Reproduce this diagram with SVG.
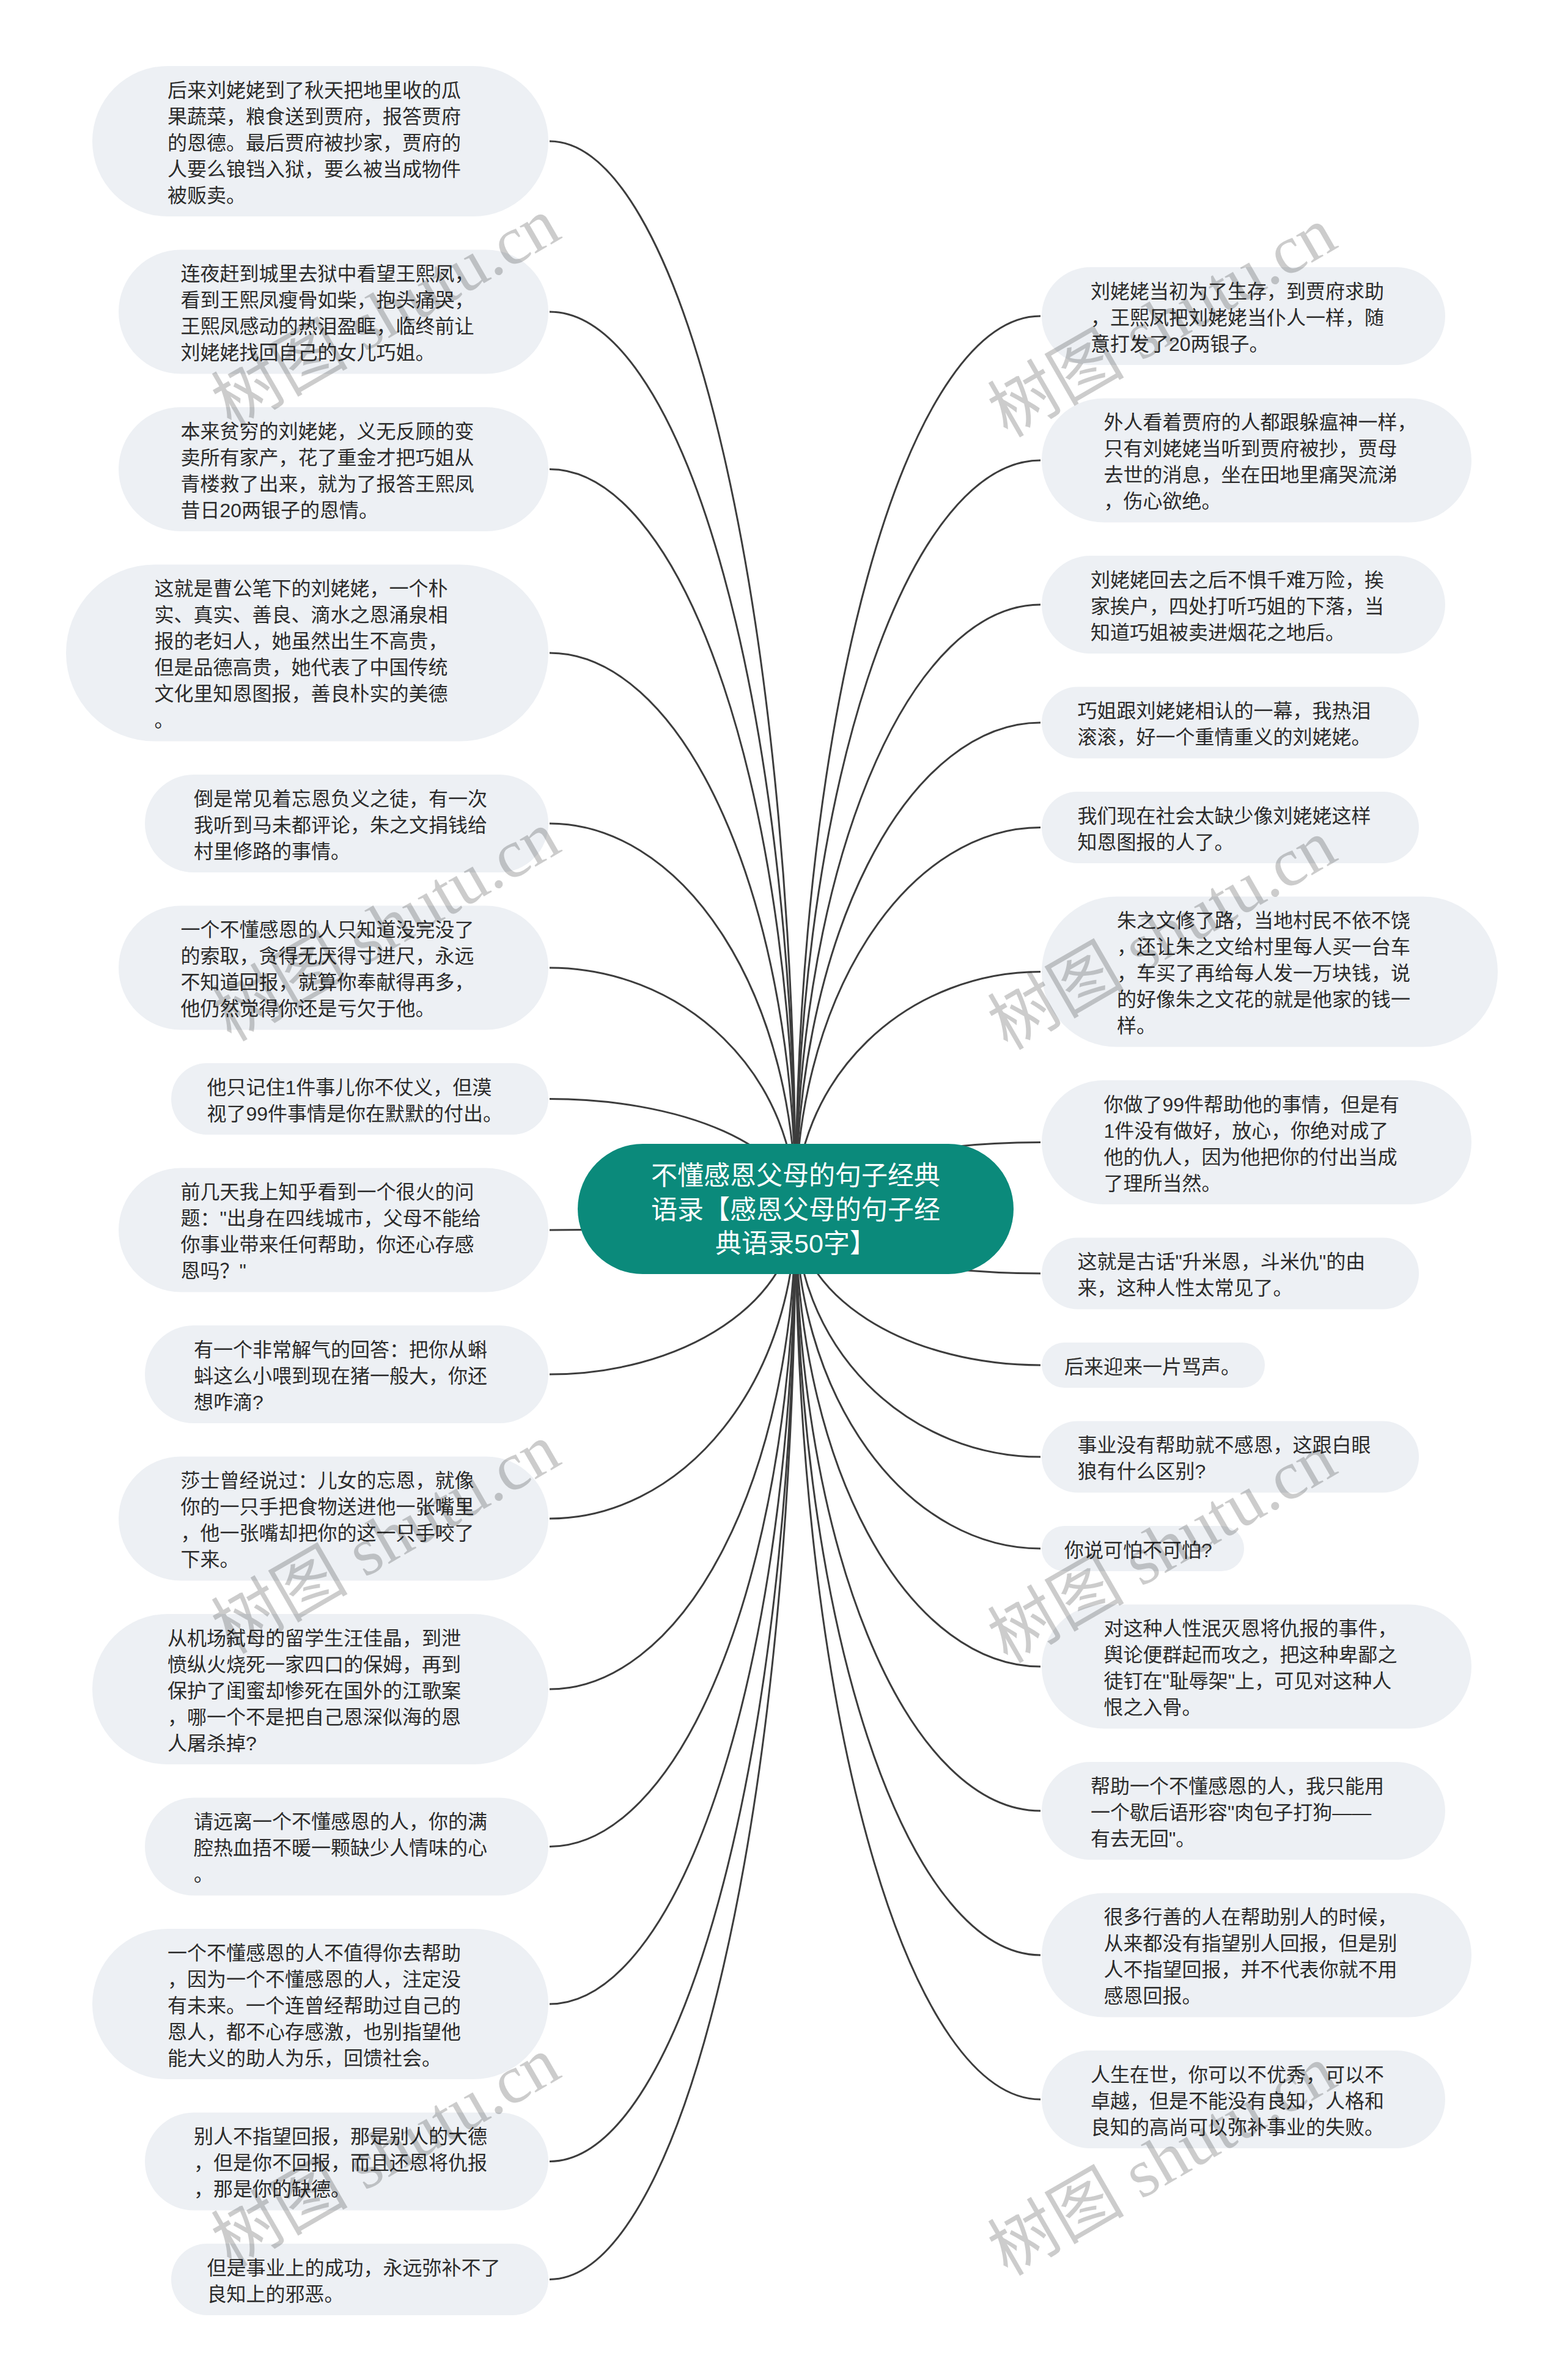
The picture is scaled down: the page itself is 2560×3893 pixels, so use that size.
<svg xmlns="http://www.w3.org/2000/svg" width="2560" height="3893" viewBox="0 0 2560 3893">
<style>
.bg{fill:#ffffff}
.node{fill:#edf0f4}
.root{fill:#0b8a7b}
.t{font-family:"Liberation Sans","Noto Sans CJK SC",sans-serif;font-size:32px;fill:#2b2b2b}
.rt{font-family:"Liberation Sans","Noto Sans CJK SC",sans-serif;font-size:43px;fill:#ffffff;text-anchor:middle}
.link{fill:none;stroke:#3d3d3d;stroke-width:3}
.wm{font-family:"Liberation Serif","Noto Sans CJK SC",serif;font-size:112px;fill:#000000;fill-opacity:0.2;text-anchor:middle}
</style>
<rect class="bg" x="0" y="0" width="2560" height="3893"/>
<g id="connectors">
<path class="link" d="M1301.5 1977.5 A402.5 1746.5 0 0 0 899 231"/>
<path class="link" d="M1301.5 1977.5 A402.5 1467.5 0 0 0 899 510"/>
<path class="link" d="M1301.5 1977.5 A402.5 1210 0 0 0 899 767.5"/>
<path class="link" d="M1301.5 1977.5 A402.5 909.5 0 0 0 899 1068"/>
<path class="link" d="M1301.5 1977.5 A402.5 630.5 0 0 0 899 1347"/>
<path class="link" d="M1301.5 1977.5 A402.5 394.5 0 0 0 899 1583"/>
<path class="link" d="M1301.5 1977.5 A402.5 180 0 0 0 899 1797.5"/>
<path class="link" d="M1301.5 1977.5 A402.5 34.5 0 0 1 899 2012"/>
<path class="link" d="M1301.5 1977.5 A402.5 270.5 0 0 1 899 2248"/>
<path class="link" d="M1301.5 1977.5 A402.5 506.5 0 0 1 899 2484"/>
<path class="link" d="M1301.5 1977.5 A402.5 785.5 0 0 1 899 2763"/>
<path class="link" d="M1301.5 1977.5 A402.5 1043 0 0 1 899 3020.5"/>
<path class="link" d="M1301.5 1977.5 A402.5 1300.5 0 0 1 899 3278"/>
<path class="link" d="M1301.5 1977.5 A402.5 1558 0 0 1 899 3535.5"/>
<path class="link" d="M1301.5 1977.5 A402.5 1751 0 0 1 899 3728.5"/>
<path class="link" d="M1301.5 1977.5 A400.5 1460.5 0 0 1 1702 517"/>
<path class="link" d="M1301.5 1977.5 A400.5 1224.5 0 0 1 1702 753"/>
<path class="link" d="M1301.5 1977.5 A400.5 988.5 0 0 1 1702 989"/>
<path class="link" d="M1301.5 1977.5 A400.5 795.5 0 0 1 1702 1182"/>
<path class="link" d="M1301.5 1977.5 A400.5 624 0 0 1 1702 1353.5"/>
<path class="link" d="M1301.5 1977.5 A400.5 388 0 0 1 1702 1589.5"/>
<path class="link" d="M1301.5 1977.5 A400.5 109 0 0 1 1702 1868.5"/>
<path class="link" d="M1301.5 1977.5 A400.5 105.5 0 0 0 1702 2083"/>
<path class="link" d="M1301.5 1977.5 A400.5 255.5 0 0 0 1702 2233"/>
<path class="link" d="M1301.5 1977.5 A400.5 405.5 0 0 0 1702 2383"/>
<path class="link" d="M1301.5 1977.5 A400.5 555.5 0 0 0 1702 2533"/>
<path class="link" d="M1301.5 1977.5 A400.5 748.5 0 0 0 1702 2726"/>
<path class="link" d="M1301.5 1977.5 A400.5 984.5 0 0 0 1702 2962"/>
<path class="link" d="M1301.5 1977.5 A400.5 1220.5 0 0 0 1702 3198"/>
<path class="link" d="M1301.5 1977.5 A400.5 1456.5 0 0 0 1702 3434"/>
</g>
<g id="root">
<rect class="root" x="945" y="1871" width="713" height="213" rx="106.5"/>
<text class="rt"><tspan x="1301.5" y="1938">不懂感恩父母的句子经典</tspan><tspan x="1301.5" y="1993.5">语录【感恩父母的句子经</tspan><tspan x="1301.5" y="2049">典语录50字】</tspan></text>
</g>
<g id="L1"><rect class="node" x="151" y="108" width="746" height="246" rx="123"/>
<text class="t"><tspan x="274" y="158.5">后来刘姥姥到了秋天把地里收的瓜</tspan><tspan x="274" y="201.5">果蔬菜，粮食送到贾府，报答贾府</tspan><tspan x="274" y="244.5">的恩德。最后贾府被抄家，贾府的</tspan><tspan x="274" y="287.5">人要么锒铛入狱，要么被当成物件</tspan><tspan x="274" y="330.5">被贩卖。</tspan></text></g>
<g id="L2"><rect class="node" x="194" y="408.5" width="703" height="203" rx="101.5"/>
<text class="t"><tspan x="295.5" y="459">连夜赶到城里去狱中看望王熙凤，</tspan><tspan x="295.5" y="502">看到王熙凤瘦骨如柴，抱头痛哭，</tspan><tspan x="295.5" y="545">王熙凤感动的热泪盈眶，临终前让</tspan><tspan x="295.5" y="588">刘姥姥找回自己的女儿巧姐。</tspan></text></g>
<g id="L3"><rect class="node" x="194" y="666" width="703" height="203" rx="101.5"/>
<text class="t"><tspan x="295.5" y="716.5">本来贫穷的刘姥姥，义无反顾的变</tspan><tspan x="295.5" y="759.5">卖所有家产，花了重金才把巧姐从</tspan><tspan x="295.5" y="802.5">青楼救了出来，就为了报答王熙凤</tspan><tspan x="295.5" y="845.5">昔日20两银子的恩情。</tspan></text></g>
<g id="L4"><rect class="node" x="108" y="923.5" width="789" height="289" rx="144.5"/>
<text class="t"><tspan x="252.5" y="974">这就是曹公笔下的刘姥姥，一个朴</tspan><tspan x="252.5" y="1017">实、真实、善良、滴水之恩涌泉相</tspan><tspan x="252.5" y="1060">报的老妇人，她虽然出生不高贵，</tspan><tspan x="252.5" y="1103">但是品德高贵，她代表了中国传统</tspan><tspan x="252.5" y="1146">文化里知恩图报，善良朴实的美德</tspan><tspan x="252.5" y="1189">。</tspan></text></g>
<g id="L5"><rect class="node" x="237" y="1267" width="660" height="160" rx="80"/>
<text class="t"><tspan x="317" y="1317.5">倒是常见着忘恩负义之徒，有一次</tspan><tspan x="317" y="1360.5">我听到马未都评论，朱之文捐钱给</tspan><tspan x="317" y="1403.5">村里修路的事情。</tspan></text></g>
<g id="L6"><rect class="node" x="194" y="1481.5" width="703" height="203" rx="101.5"/>
<text class="t"><tspan x="295.5" y="1532">一个不懂感恩的人只知道没完没了</tspan><tspan x="295.5" y="1575">的索取，贪得无厌得寸进尺，永远</tspan><tspan x="295.5" y="1618">不知道回报，就算你奉献得再多，</tspan><tspan x="295.5" y="1661">他仍然觉得你还是亏欠于他。</tspan></text></g>
<g id="L7"><rect class="node" x="280" y="1739" width="617" height="117" rx="58.5"/>
<text class="t"><tspan x="338.5" y="1789.5">他只记住1件事儿你不仗义，但漠</tspan><tspan x="338.5" y="1832.5">视了99件事情是你在默默的付出。</tspan></text></g>
<g id="L8"><rect class="node" x="194" y="1910.5" width="703" height="203" rx="101.5"/>
<text class="t"><tspan x="295.5" y="1961">前几天我上知乎看到一个很火的问</tspan><tspan x="295.5" y="2004">题："出身在四线城市，父母不能给</tspan><tspan x="295.5" y="2047">你事业带来任何帮助，你还心存感</tspan><tspan x="295.5" y="2090">恩吗？"</tspan></text></g>
<g id="L9"><rect class="node" x="237" y="2168" width="660" height="160" rx="80"/>
<text class="t"><tspan x="317" y="2218.5">有一个非常解气的回答：把你从蝌</tspan><tspan x="317" y="2261.5">蚪这么小喂到现在猪一般大，你还</tspan><tspan x="317" y="2304.5">想咋滴?</tspan></text></g>
<g id="L10"><rect class="node" x="194" y="2382.5" width="703" height="203" rx="101.5"/>
<text class="t"><tspan x="295.5" y="2433">莎士曾经说过：儿女的忘恩，就像</tspan><tspan x="295.5" y="2476">你的一只手把食物送进他一张嘴里</tspan><tspan x="295.5" y="2519">，他一张嘴却把你的这一只手咬了</tspan><tspan x="295.5" y="2562">下来。</tspan></text></g>
<g id="L11"><rect class="node" x="151" y="2640" width="746" height="246" rx="123"/>
<text class="t"><tspan x="274" y="2690.5">从机场弑母的留学生汪佳晶，到泄</tspan><tspan x="274" y="2733.5">愤纵火烧死一家四口的保姆，再到</tspan><tspan x="274" y="2776.5">保护了闺蜜却惨死在国外的江歌案</tspan><tspan x="274" y="2819.5">，哪一个不是把自己恩深似海的恩</tspan><tspan x="274" y="2862.5">人屠杀掉?</tspan></text></g>
<g id="L12"><rect class="node" x="237" y="2940.5" width="660" height="160" rx="80"/>
<text class="t"><tspan x="317" y="2991">请远离一个不懂感恩的人，你的满</tspan><tspan x="317" y="3034">腔热血捂不暖一颗缺少人情味的心</tspan><tspan x="317" y="3077">。</tspan></text></g>
<g id="L13"><rect class="node" x="151" y="3155" width="746" height="246" rx="123"/>
<text class="t"><tspan x="274" y="3205.5">一个不懂感恩的人不值得你去帮助</tspan><tspan x="274" y="3248.5">，因为一个不懂感恩的人，注定没</tspan><tspan x="274" y="3291.5">有未来。一个连曾经帮助过自己的</tspan><tspan x="274" y="3334.5">恩人，都不心存感激，也别指望他</tspan><tspan x="274" y="3377.5">能大义的助人为乐，回馈社会。</tspan></text></g>
<g id="L14"><rect class="node" x="237" y="3455.5" width="660" height="160" rx="80"/>
<text class="t"><tspan x="317" y="3506">别人不指望回报，那是别人的大德</tspan><tspan x="317" y="3549">，但是你不回报，而且还恩将仇报</tspan><tspan x="317" y="3592">，那是你的缺德。</tspan></text></g>
<g id="L15"><rect class="node" x="280" y="3670" width="617" height="117" rx="58.5"/>
<text class="t"><tspan x="338.5" y="3720.5">但是事业上的成功，永远弥补不了</tspan><tspan x="338.5" y="3763.5">良知上的邪恶。</tspan></text></g>
<g id="R1"><rect class="node" x="1704" y="437" width="660" height="160" rx="80"/>
<text class="t"><tspan x="1784" y="487.5">刘姥姥当初为了生存，到贾府求助</tspan><tspan x="1784" y="530.5">，王熙凤把刘姥姥当仆人一样，随</tspan><tspan x="1784" y="573.5">意打发了20两银子。</tspan></text></g>
<g id="R2"><rect class="node" x="1704" y="651.5" width="703" height="203" rx="101.5"/>
<text class="t"><tspan x="1805.5" y="702">外人看着贾府的人都跟躲瘟神一样，</tspan><tspan x="1805.5" y="745">只有刘姥姥当听到贾府被抄，贾母</tspan><tspan x="1805.5" y="788">去世的消息，坐在田地里痛哭流涕</tspan><tspan x="1805.5" y="831">，伤心欲绝。</tspan></text></g>
<g id="R3"><rect class="node" x="1704" y="909" width="660" height="160" rx="80"/>
<text class="t"><tspan x="1784" y="959.5">刘姥姥回去之后不惧千难万险，挨</tspan><tspan x="1784" y="1002.5">家挨户，四处打听巧姐的下落，当</tspan><tspan x="1784" y="1045.5">知道巧姐被卖进烟花之地后。</tspan></text></g>
<g id="R4"><rect class="node" x="1704" y="1123.5" width="617" height="117" rx="58.5"/>
<text class="t"><tspan x="1762.5" y="1174">巧姐跟刘姥姥相认的一幕，我热泪</tspan><tspan x="1762.5" y="1217">滚滚，好一个重情重义的刘姥姥。</tspan></text></g>
<g id="R5"><rect class="node" x="1704" y="1295" width="617" height="117" rx="58.5"/>
<text class="t"><tspan x="1762.5" y="1345.5">我们现在社会太缺少像刘姥姥这样</tspan><tspan x="1762.5" y="1388.5">知恩图报的人了。</tspan></text></g>
<g id="R6"><rect class="node" x="1704" y="1466.5" width="746" height="246" rx="123"/>
<text class="t"><tspan x="1827" y="1517">朱之文修了路，当地村民不依不饶</tspan><tspan x="1827" y="1560">，还让朱之文给村里每人买一台车</tspan><tspan x="1827" y="1603">，车买了再给每人发一万块钱，说</tspan><tspan x="1827" y="1646">的好像朱之文花的就是他家的钱一</tspan><tspan x="1827" y="1689">样。</tspan></text></g>
<g id="R7"><rect class="node" x="1704" y="1767" width="703" height="203" rx="101.5"/>
<text class="t"><tspan x="1805.5" y="1817.5">你做了99件帮助他的事情，但是有</tspan><tspan x="1805.5" y="1860.5">1件没有做好，放心，你绝对成了</tspan><tspan x="1805.5" y="1903.5">他的仇人，因为他把你的付出当成</tspan><tspan x="1805.5" y="1946.5">了理所当然。</tspan></text></g>
<g id="R8"><rect class="node" x="1704" y="2024.5" width="617" height="117" rx="58.5"/>
<text class="t"><tspan x="1762.5" y="2075">这就是古话"升米恩，斗米仇"的由</tspan><tspan x="1762.5" y="2118">来，这种人性太常见了。</tspan></text></g>
<g id="R9"><rect class="node" x="1704" y="2196" width="365" height="74" rx="37"/>
<text class="t"><tspan x="1741" y="2246.5">后来迎来一片骂声。</tspan></text></g>
<g id="R10"><rect class="node" x="1704" y="2324.5" width="617" height="117" rx="58.5"/>
<text class="t"><tspan x="1762.5" y="2375">事业没有帮助就不感恩，这跟白眼</tspan><tspan x="1762.5" y="2418">狼有什么区别?</tspan></text></g>
<g id="R11"><rect class="node" x="1704" y="2496" width="331" height="74" rx="37"/>
<text class="t"><tspan x="1741" y="2546.5">你说可怕不可怕?</tspan></text></g>
<g id="R12"><rect class="node" x="1704" y="2624.5" width="703" height="203" rx="101.5"/>
<text class="t"><tspan x="1805.5" y="2675">对这种人性泯灭恩将仇报的事件，</tspan><tspan x="1805.5" y="2718">舆论便群起而攻之，把这种卑鄙之</tspan><tspan x="1805.5" y="2761">徒钉在"耻辱架"上，可见对这种人</tspan><tspan x="1805.5" y="2804">恨之入骨。</tspan></text></g>
<g id="R13"><rect class="node" x="1704" y="2882" width="660" height="160" rx="80"/>
<text class="t"><tspan x="1784" y="2932.5">帮助一个不懂感恩的人，我只能用</tspan><tspan x="1784" y="2975.5">一个歇后语形容"肉包子打狗——</tspan><tspan x="1784" y="3018.5">有去无回"。</tspan></text></g>
<g id="R14"><rect class="node" x="1704" y="3096.5" width="703" height="203" rx="101.5"/>
<text class="t"><tspan x="1805.5" y="3147">很多行善的人在帮助别人的时候，</tspan><tspan x="1805.5" y="3190">从来都没有指望别人回报，但是别</tspan><tspan x="1805.5" y="3233">人不指望回报，并不代表你就不用</tspan><tspan x="1805.5" y="3276">感恩回报。</tspan></text></g>
<g id="R15"><rect class="node" x="1704" y="3354" width="660" height="160" rx="80"/>
<text class="t"><tspan x="1784" y="3404.5">人生在世，你可以不优秀，可以不</tspan><tspan x="1784" y="3447.5">卓越，但是不能没有良知，人格和</tspan><tspan x="1784" y="3490.5">良知的高尚可以弥补事业的失败。</tspan></text></g>
<g id="watermarks">
<text class="wm" transform="translate(650 545) rotate(-30)">树图 shutu.cn</text>
<text class="wm" transform="translate(650 1548) rotate(-30)">树图 shutu.cn</text>
<text class="wm" transform="translate(650 2550) rotate(-30)">树图 shutu.cn</text>
<text class="wm" transform="translate(650 3553) rotate(-30)">树图 shutu.cn</text>
<text class="wm" transform="translate(1920 560) rotate(-30)">树图 shutu.cn</text>
<text class="wm" transform="translate(1920 1562) rotate(-30)">树图 shutu.cn</text>
<text class="wm" transform="translate(1920 2565) rotate(-30)">树图 shutu.cn</text>
<text class="wm" transform="translate(1920 3567) rotate(-30)">树图 shutu.cn</text>
</g>
</svg>
